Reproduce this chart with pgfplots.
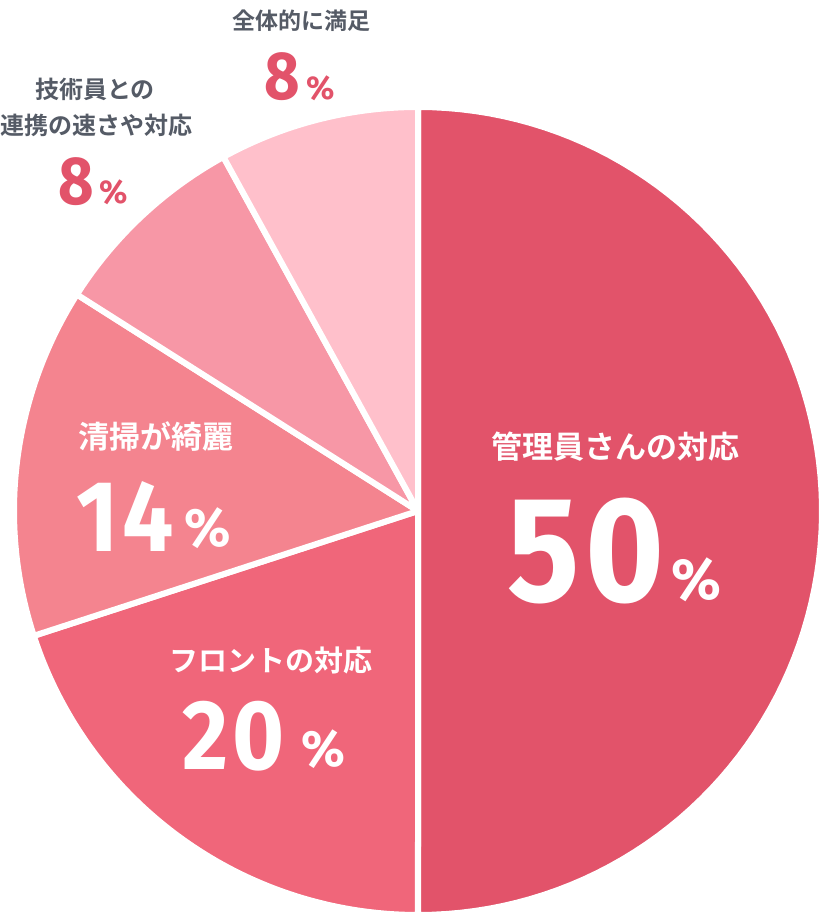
\documentclass[border=0pt]{standalone}
\usepackage{pgfplots}
\pgfplotsset{compat=1.18}
\usepackage{pgfplotstable}
\usepackage{fontspec}
\newfontfamily\jp{Noto Sans CJK JP}[UprightFont={* Medium},BoldFont={* Bold}]
\newfontfamily\num{Fira Sans}[FakeStretch=0.9,LetterSpace=4]
\newfontfamily\pct{Fira Sans}
\definecolor{cA}{HTML}{E2536A}
\definecolor{cB}{HTML}{F0667A}
\definecolor{cC}{HTML}{F4848F}
\definecolor{cD}{HTML}{F797A6}
\definecolor{cE}{HTML}{FFC0CB}
\definecolor{txt}{HTML}{555B66}
\pgfplotstableread{
label pct
kanri 50
front 20
seiso 14
gijutsu 8
zentai 8
}\piedata
\pgfplotstablegetelem{0}{pct}\of\piedata \let\pA\pgfplotsretval
\pgfplotstablegetelem{1}{pct}\of\piedata \let\pB\pgfplotsretval
\pgfplotstablegetelem{2}{pct}\of\piedata \let\pC\pgfplotsretval
\pgfplotstablegetelem{3}{pct}\of\piedata \let\pD\pgfplotsretval
\pgfplotstablegetelem{4}{pct}\of\piedata \let\pE\pgfplotsretval
\pgfmathsetmacro\aA{90}
\pgfmathsetmacro\aB{\aA-3.6*\pA}
\pgfmathsetmacro\aC{\aB-3.6*\pB}
\pgfmathsetmacro\aD{\aC-3.6*\pC}
\pgfmathsetmacro\aE{\aD-3.6*\pD}
\pgfmathsetmacro\aF{\aE-3.6*\pE}
\newcommand{\fs}[1]{\fontsize{#1}{#1}\selectfont}
\begin{document}
\begin{tikzpicture}
\begin{axis}[x=1pt,y=1pt,xmin=0,xmax=820,ymin=0,ymax=912,enlargelimits=false,hide axis,clip=false,
  every axis plot/.append style={draw=white,line width=6pt,line join=round,samples=90,variable=\t}]
\coordinate (ll) at (axis cs:0,0);
\coordinate (ur) at (axis cs:820,912);
\addplot[fill=cA,domain=\aB:\aA] ({418+404*cos(t)},{401+404*sin(t)}) -- (axis cs:418,401) -- cycle;
\addplot[fill=cB,domain=\aC:\aB] ({418+404*cos(t)},{401+404*sin(t)}) -- (axis cs:418,401) -- cycle;
\addplot[fill=cC,domain=\aD:\aC] ({418+404*cos(t)},{401+404*sin(t)}) -- (axis cs:418,401) -- cycle;
\addplot[fill=cD,domain=\aE:\aD] ({418+404*cos(t)},{401+404*sin(t)}) -- (axis cs:418,401) -- cycle;
\addplot[fill=cE,domain=\aF:\aE] ({418+404*cos(t)},{401+404*sin(t)}) -- (axis cs:418,401) -- cycle;
% inside labels
\node[text=white,inner sep=0,anchor=center,font=\jp\bfseries\fs{31}] at (axis cs:615,465) {管理員さんの対応};
\node[text=white,inner sep=0,anchor=base west,font=\num\bfseries\fs{150}] at (axis cs:507,310) {50};
\node[text=white,inner sep=0,anchor=base west,font=\pct\bfseries\fs{58}] at (axis cs:671,312) {\%};
\node[text=white,inner sep=0,anchor=center,font=\jp\bfseries\fs{31}] at (axis cs:156,475) {清掃が綺麗};
\node[text=white,inner sep=0,anchor=base west,font=\num\bfseries\fs{101}] at (axis cs:76,360) {14};
\node[text=white,inner sep=0,anchor=base west,font=\pct\bfseries\fs{54}] at (axis cs:184,365) {\%};
\node[text=white,inner sep=0,anchor=center,font=\jp\bfseries\fs{29}] at (axis cs:271,252) {フロントの対応};
\node[text=white,inner sep=0,anchor=base west,font=\num\bfseries\fs{99}] at (axis cs:182,142) {20};
\node[text=white,inner sep=0,anchor=base west,font=\pct\bfseries\fs{51}] at (axis cs:301,145) {\%};
% outside labels
\node[text=txt,inner sep=0,anchor=center,font=\jp\bfseries\fs{23}] at (axis cs:301,891) {全体的に満足};
\node[text=cA,inner sep=0,anchor=base west,font=\num\bfseries\fs{68}] at (axis cs:264,812) {8};
\node[text=cA,inner sep=0,anchor=base west,font=\pct\bfseries\fs{33}] at (axis cs:306,812) {\%};
\node[text=txt,inner sep=0,anchor=center,font=\jp\bfseries\fs{24}] at (axis cs:95,823) {技術員との};
\node[text=txt,inner sep=0,anchor=center,font=\jp\bfseries\fs{24}] at (axis cs:97,787) {連携の速さや対応};
\node[text=cA,inner sep=0,anchor=base west,font=\num\bfseries\fs{68}] at (axis cs:58,707) {8};
\node[text=cA,inner sep=0,anchor=base west,font=\pct\bfseries\fs{33}] at (axis cs:99,708) {\%};
\end{axis}
\pgfresetboundingbox
\path[use as bounding box] (ll) rectangle (ur);
\end{tikzpicture}
\end{document}
